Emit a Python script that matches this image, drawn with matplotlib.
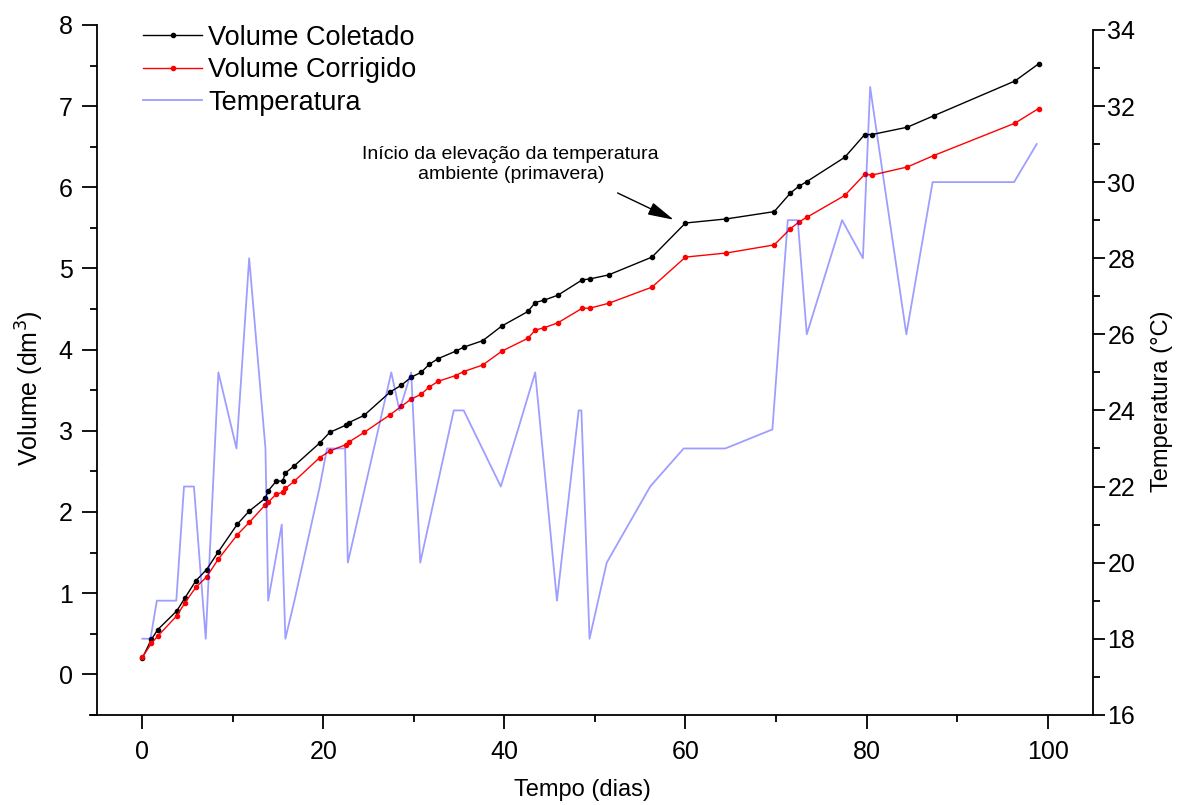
import matplotlib
matplotlib.use('Agg')
import matplotlib.pyplot as plt
from matplotlib.ticker import MultipleLocator

plt.rcParams['font.family'] = ['Liberation Sans', 'DejaVu Sans']

# dias de coleta (mesmos para as duas curvas de volume)
dias = [0, 1.0, 1.7, 3.8, 4.7, 5.9, 7.1, 8.4, 10.5, 11.8, 13.6, 13.9, 14.8, 15.5,
        15.8, 16.8, 19.6, 20.7, 22.5, 22.8, 24.5, 27.4, 28.6, 29.7, 30.8, 31.7,
        32.7, 34.6, 35.5, 37.6, 39.7, 42.6, 43.4, 44.4, 45.9, 48.6, 49.4, 51.5,
        56.3, 60.0, 64.5, 69.8, 71.6, 72.5, 73.4, 77.6, 79.8, 80.6, 84.5, 87.4,
        96.4, 99.0]

vol_coletado = [0.20, 0.43, 0.55, 0.78, 0.94, 1.15, 1.29, 1.51, 1.85, 2.01, 2.17,
                2.26, 2.38, 2.38, 2.48, 2.57, 2.85, 2.98, 3.07, 3.10, 3.19, 3.48,
                3.56, 3.66, 3.72, 3.82, 3.89, 3.98, 4.03, 4.11, 4.29, 4.47, 4.58,
                4.61, 4.67, 4.86, 4.87, 4.92, 5.14, 5.56, 5.61, 5.70, 5.93, 6.01,
                6.07, 6.37, 6.65, 6.65, 6.74, 6.88, 7.31, 7.52]

vol_corrigido = [0.21, 0.38, 0.47, 0.72, 0.88, 1.07, 1.20, 1.42, 1.72, 1.87, 2.09,
                 2.12, 2.22, 2.24, 2.29, 2.38, 2.67, 2.75, 2.83, 2.86, 2.98, 3.20,
                 3.30, 3.39, 3.45, 3.54, 3.61, 3.68, 3.73, 3.81, 3.98, 4.14, 4.24,
                 4.27, 4.33, 4.51, 4.51, 4.57, 4.77, 5.14, 5.19, 5.29, 5.49, 5.57,
                 5.63, 5.90, 6.16, 6.15, 6.25, 6.39, 6.79, 6.97]

# temperatura ambiente
dias_temp = [0, 0.9, 1.6, 3.75, 4.6, 5.7, 7.0, 8.4, 10.4, 11.8, 13.6, 13.9, 15.4,
             15.8, 16.8, 19.6, 20.4, 22.4, 22.7, 27.5, 28.4, 29.7, 30.7, 34.4, 35.5,
             39.6, 43.4, 45.8, 48.2, 48.5, 49.4, 51.3, 56.1, 59.8, 64.4, 69.6, 71.3,
             72.4, 73.4, 77.3, 79.6, 80.4, 80.7, 84.4, 87.3, 96.3, 98.8]
temperatura = [18, 18, 19, 19, 22, 22, 18, 25, 23, 28, 23, 19, 21,
               18, 19, 22, 23, 23, 20, 25, 24, 25, 20, 24, 24,
               22, 25, 19, 24, 24, 18, 20, 22, 23, 23, 23.5, 29,
               29, 26, 29, 28, 32.5, 32, 26, 30, 30, 31]

fig = plt.figure(figsize=(11.84, 8.05), dpi=100)
ax = fig.add_axes([0.082, 0.112, 0.841, 0.857])
ax2 = ax.twinx()

l1, = ax.plot(dias, vol_coletado, color='black', lw=1.0, marker='o', ms=3,
              label='Volume Coletado')
l2, = ax.plot(dias, vol_corrigido, color='red', lw=1.0, marker='o', ms=3,
              label='Volume Corrigido')
l3, = ax2.plot(dias_temp, temperatura, color='blue', alpha=0.38, lw=1.3,
               label='Temperatura')

ax.set_xlim(-5, 105)
ax.set_ylim(-0.5, 8)
ax2.set_ylim(16, 34.13)

for a in (ax, ax2):
    a.spines['top'].set_visible(False)
    for s in ('bottom', 'left', 'right'):
        a.spines[s].set_linewidth(1.3)
ax.spines['right'].set_visible(False)
ax2.spines['left'].set_visible(False)
ax2.spines['bottom'].set_visible(False)
ax.spines['left'].set_bounds(-0.5, 8)
ax.spines['bottom'].set_bounds(-5.75, 105)
ax2.spines['right'].set_bounds(16, 34)

ax.xaxis.set_major_locator(MultipleLocator(20))
ax.xaxis.set_minor_locator(MultipleLocator(10))
ax.yaxis.set_major_locator(MultipleLocator(1))
ax.yaxis.set_minor_locator(MultipleLocator(0.5))
ax2.set_yticks(list(range(16, 35, 2)))
ax2.yaxis.set_minor_locator(MultipleLocator(1))

ax.tick_params(axis='x', which='major', length=10, width=1.3, labelsize=18, pad=8)
ax.tick_params(axis='y', which='major', length=10.5, width=1.3, labelsize=18, pad=7)
ax.tick_params(which='minor', length=5, width=1.3)
ax2.tick_params(which='major', length=8.5, width=1.3, labelsize=18, pad=2)
ax2.tick_params(which='minor', length=5, width=1.3)

ax.set_xlabel('Tempo (dias)', fontsize=17)
ax.xaxis.set_label_coords(0.487, -0.093)
ax.set_ylabel('Volume (dm$^3$)', fontsize=18)
ax.yaxis.set_label_coords(-0.051, 0.474)
ax2.set_ylabel('Temperatura (°C)', fontsize=17)
ax2.yaxis.set_label_coords(1.058, 0.454)

ax.legend(handles=[l1, l2, l3], loc='upper left', bbox_to_anchor=(0.046, 1.0),
          frameon=False, fontsize=19.5, handlelength=2.2, handletextpad=0.22,
          labelspacing=0.24, borderpad=0, borderaxespad=0)

ax.text(40.7, 6.28, 'Início da elevação da temperatura\nambiente (primavera)',
        ha='center', va='center', fontsize=14, linespacing=1.25)
ax.annotate('', xy=(58.7, 5.6), xytext=(52.5, 5.93),
            arrowprops=dict(arrowstyle='-|>,head_length=0.8,head_width=0.2',
                            color='black', lw=1.0, shrinkA=0, shrinkB=0,
                            mutation_scale=20))

fig.savefig('out.png', dpi=100)
